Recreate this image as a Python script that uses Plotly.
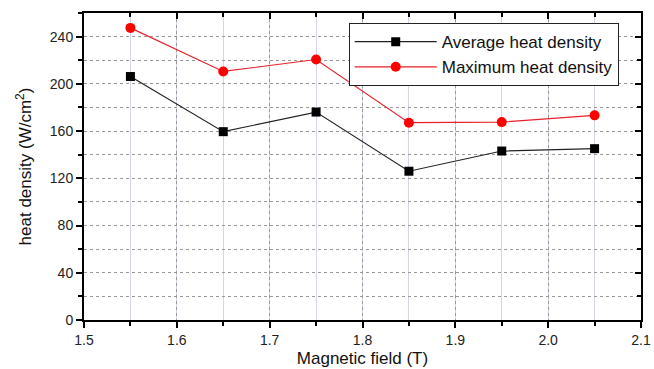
import plotly.graph_objects as go

field = [1.55, 1.65, 1.75, 1.85, 1.95, 2.05]
avg_heat = [206.2, 159.5, 176.1, 126.0, 143.1, 145.1]
max_heat = [247.4, 210.5, 220.6, 167.1, 167.6, 173.3]

x_ticks = [1.5, 1.6, 1.7, 1.8, 1.9, 2.0, 2.1]
y_ticks = [0, 40, 80, 120, 160, 200, 240]

FONT = "Liberation Sans"

fig = go.Figure()
fig.add_trace(go.Scatter(x=field, y=avg_heat, mode="lines+markers",
                         name="Average heat density",
                         line=dict(color="#222222", width=1.2),
                         marker=dict(symbol="square", size=9, color="black")))
fig.add_trace(go.Scatter(x=field, y=max_heat, mode="lines+markers",
                         name="Maximum heat density",
                         line=dict(color="#e8202a", width=1.2),
                         marker=dict(symbol="circle", size=10, color="#ff0000")))
# invisible trace to hold the mirrored (top/right) axes
fig.add_trace(go.Scatter(x=[1.5], y=[0], xaxis="x2", yaxis="y2", mode="markers",
                         marker=dict(opacity=0), showlegend=False, hoverinfo="skip"))

tickfont = dict(family=FONT, size=14, color="#222222")
titlefont = dict(family=FONT, size=17, color="#111111")

fig.update_layout(
    width=654, height=369,
    margin=dict(l=84, r=13, t=13, b=49),
    plot_bgcolor="white", paper_bgcolor="white",
    showlegend=True,
    legend=dict(x=0.96, y=0.967, xanchor="right", yanchor="top",
                bordercolor="#222222", borderwidth=1, bgcolor="white",
                font=dict(family=FONT, size=17, color="#111111"),
                tracegroupgap=0, itemwidth=82,
                traceorder="normal"),
    xaxis=dict(range=[1.5, 2.1], tickvals=x_ticks,
               ticktext=[f"{v:.1f}" for v in x_ticks], automargin=False,
               ticks="outside", ticklen=6, tickwidth=1.5, tickcolor="black",
               showline=True, linecolor="black", linewidth=2,
               showgrid=True, gridcolor="#999999", griddash="dot", gridwidth=1,
               minor=dict(dtick=0.05, tick0=1.5, ticks="outside", ticklen=4,
                          tickcolor="black", showgrid=True, gridcolor="#d4d4ec",
                          griddash="solid", gridwidth=1),
               zeroline=False, tickfont=tickfont,
               title=dict(text="Magnetic field (T)", standoff=5, font=titlefont)),
    yaxis=dict(range=[0, 260], tickvals=y_ticks, automargin=False,
               ticks="outside", ticklen=6, tickwidth=1.5, tickcolor="black",
               showline=True, linecolor="black", linewidth=2,
               showgrid=True, gridcolor="#999999", griddash="dot", gridwidth=1,
               minor=dict(dtick=20, tick0=0, ticks="outside", ticklen=4,
                          tickcolor="black", showgrid=True, gridcolor="#999999",
                          griddash="dot", gridwidth=1),
               zeroline=False, tickfont=tickfont,
               title=dict(text="heat density (W/cm<sup>2</sup>)", standoff=14, font=titlefont)),
    xaxis2=dict(range=[1.5, 2.1], overlaying="x", side="top", anchor="y2",
                tickvals=x_ticks, showticklabels=False, ticks="inside", automargin=False,
                ticklen=6, tickwidth=1.5, tickcolor="black",
                showline=True, linecolor="black", linewidth=2,
                minor=dict(dtick=0.05, tick0=1.5, ticks="inside", ticklen=4, tickcolor="black"),
                showgrid=False, zeroline=False),
    yaxis2=dict(range=[0, 260], overlaying="y", side="right", anchor="x2",
                tickvals=y_ticks, showticklabels=False, ticks="inside", automargin=False,
                ticklen=6, tickwidth=1.5, tickcolor="black",
                showline=True, linecolor="black", linewidth=2,
                minor=dict(dtick=20, tick0=0, ticks="inside", ticklen=4, tickcolor="black"),
                showgrid=False, zeroline=False),
)

page_fix = ("document.documentElement.style.overflow='hidden';"
            "document.body.style.margin='0';document.body.style.overflow='hidden';")
fig.write_html("out.html", post_script=page_fix, config={"displayModeBar": False})
